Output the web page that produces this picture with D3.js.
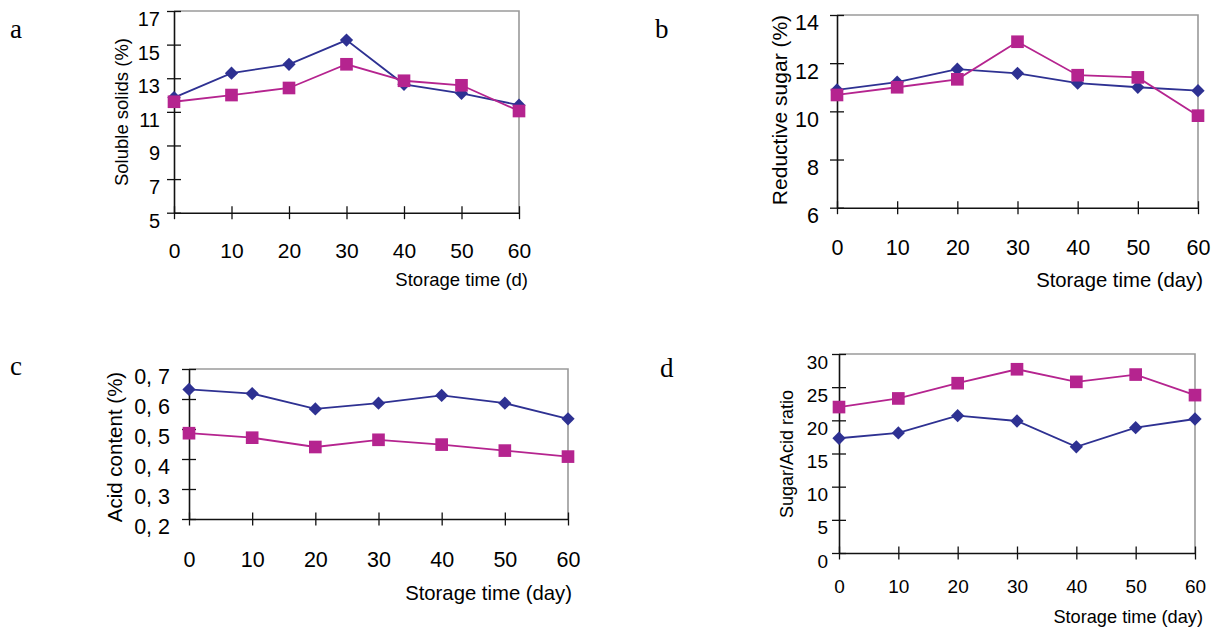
<!DOCTYPE html>
<html>
<head>
<meta charset="utf-8">
<script src="https://cdn.jsdelivr.net/npm/d3@7"></script>
<style>
  body { margin: 0; background: #fff; }
  svg { display: block; }
</style>
</head>
<body>
<div class="holder"></div>
<script>
const days = [0, 10, 20, 30, 40, 50, 60];

const solidsBlue = [11.85, 13.3, 13.83, 15.27, 12.64, 12.1, 11.4];
const solidsPink = [11.6, 12.0, 12.42, 13.83, 12.85, 12.58, 11.05];
const sugarBlue = [10.89, 11.21, 11.75, 11.58, 11.17, 11.0, 10.86];
const sugarPink = [10.68, 11.0, 11.33, 12.89, 11.5, 11.41, 9.82];
const acidBlue = [0.632, 0.618, 0.567, 0.586, 0.612, 0.586, 0.534];
const acidPink = [0.486, 0.471, 0.44, 0.464, 0.448, 0.428, 0.408];
const ratioBlue = [17.3, 18.1, 20.7, 19.9, 16.0, 18.9, 20.2];
const ratioPink = [22.0, 23.3, 25.6, 27.7, 25.8, 26.9, 23.8];

const solidsTicks = [5, 7, 9, 11, 13, 15, 17];
const sugarTicks = [6, 8, 10, 12, 14];
const acidTicks = [0.2, 0.3, 0.4, 0.5, 0.6, 0.7];
const acidTickLabels = ['0, 2', '0, 3', '0, 4', '0, 5', '0, 6', '0, 7'];
const ratioTicks = [0, 5, 10, 15, 20, 25, 30];

const blue = '#2e3192';
const pink = '#b5248f';
const sans = '"Liberation Sans", Arial, sans-serif';

const panels = [
  {
    letter: 'a', lx: 10, ly: 38,
    left: 174, right: 519, top: 11, bottom: 212.7,
    domain: [5, 17], ticks: solidsTicks, fmt: d => d,
    blue: solidsBlue, pink: solidsPink,
    yFont: 20, yPad: 7, xFont: 21, xPad: 23.5,
    yTitle: 'Soluble solids (%)', ytx: 128, yty: 112, ytFont: 18.5,
    xTitle: 'Storage time (d)', xtx: 528, xty: 286, xtFont: 18.5
  },
  {
    letter: 'b', lx: 655, ly: 38,
    left: 837, right: 1198, top: 15, bottom: 207.7,
    domain: [6, 14], ticks: sugarTicks, fmt: d => d,
    blue: sugarBlue, pink: sugarPink,
    yFont: 21.5, yPad: 11, xFont: 21.5, xPad: 26,
    yTitle: 'Reductive sugar (%)', ytx: 787, yty: 110, ytFont: 21,
    xTitle: 'Storage time (day)', xtx: 1203, xty: 287, xtFont: 20.3
  },
  {
    letter: 'c', lx: 10, ly: 375,
    left: 189, right: 568, top: 369, bottom: 519,
    domain: [0.2, 0.7], ticks: acidTicks, fmt: (d, i) => acidTickLabels[i],
    blue: acidBlue, pink: acidPink,
    yFont: 21.5, yPad: 12, xFont: 21.5, xPad: 26,
    yTitle: 'Acid content (%)', ytx: 122, yty: 447, ytFont: 20.5,
    xTitle: 'Storage time (day)', xtx: 572, xty: 600, xtFont: 20.3
  },
  {
    letter: 'd', lx: 660, ly: 377,
    left: 839, right: 1195, top: 354, bottom: 553,
    domain: [0, 30], ticks: ratioTicks, fmt: d => d,
    blue: ratioBlue, pink: ratioPink,
    yFont: 19, yPad: 4, xFont: 19, xPad: 20.5,
    yTitle: 'Sugar/Acid ratio', ytx: 793, yty: 454, ytFont: 18,
    xTitle: 'Storage time (day)', xtx: 1203, xty: 623, xtFont: 18.2
  }
];

const svg = d3
  .select('.holder')
  .append('svg')
  .attr('width', 1216)
  .attr('height', 628);

const diamond = d3.symbol(d3.symbolSquare, 88);
const square = d3.symbol(d3.symbolSquare, 160);

panels.forEach(p => {
  const g = svg.append('g');

  const xScale = d3.scaleLinear().domain([0, 60]).range([p.left, p.right]);
  const yScale = d3.scaleLinear().domain(p.domain).range([p.bottom, p.top]);

  // grey frame on top and right
  g.append('path')
    .attr('d', `M${p.left},${p.top}H${p.right}V${p.bottom}`)
    .attr('fill', 'none')
    .attr('stroke', '#9a9a9a')
    .attr('stroke-width', 1.6);

  const yAxis = d3.axisLeft(yScale)
    .tickValues(p.ticks)
    .tickFormat(p.fmt)
    .tickSize(7)
    .tickSizeOuter(0)
    .tickPadding(p.yPad);

  const yg = g.append('g')
    .attr('transform', `translate(${p.left},0)`)
    .call(yAxis);
  yg.selectAll('.tick line').attr('x1', 7);
  yg.selectAll('.tick text').attr('y', 8);

  const xAxis = d3.axisBottom(xScale)
    .tickValues(days)
    .tickSize(6.5)
    .tickSizeOuter(0)
    .tickPadding(p.xPad);

  const xg = g.append('g')
    .attr('transform', `translate(0,${p.bottom})`)
    .call(xAxis);
  xg.selectAll('.tick line').attr('y1', -6.5);

  [yg, xg].forEach(a => {
    a.attr('font-family', sans).attr('fill', '#000');
    a.select('.domain').attr('stroke', '#111').attr('stroke-width', 1.6);
    a.selectAll('.tick line').attr('stroke', '#111').attr('stroke-width', 1.3);
    a.selectAll('.tick text').attr('fill', '#000');
  });
  yg.attr('font-size', p.yFont);
  xg.attr('font-size', p.xFont);

  const line = d3.line()
    .x((d, i) => xScale(days[i]))
    .y(d => yScale(d));

  g.append('path')
    .datum(p.blue)
    .attr('d', line)
    .attr('fill', 'none')
    .attr('stroke', blue)
    .attr('stroke-width', 1.8);

  g.selectAll('.dia')
    .data(p.blue)
    .enter()
    .append('path')
    .attr('class', 'dia')
    .attr('d', diamond)
    .attr('transform', (d, i) => `translate(${xScale(days[i])},${yScale(d)}) rotate(45)`)
    .attr('fill', blue);

  g.append('path')
    .datum(p.pink)
    .attr('d', line)
    .attr('fill', 'none')
    .attr('stroke', pink)
    .attr('stroke-width', 1.8);

  g.selectAll('.sq')
    .data(p.pink)
    .enter()
    .append('path')
    .attr('class', 'sq')
    .attr('d', square)
    .attr('transform', (d, i) => `translate(${xScale(days[i])},${yScale(d)})`)
    .attr('fill', pink);

  g.append('text')
    .attr('transform', `translate(${p.ytx},${p.yty}) rotate(-90)`)
    .attr('text-anchor', 'middle')
    .attr('font-family', sans)
    .attr('font-size', p.ytFont)
    .text(p.yTitle);

  g.append('text')
    .attr('x', p.xtx)
    .attr('y', p.xty)
    .attr('text-anchor', 'end')
    .attr('font-family', sans)
    .attr('font-size', p.xtFont)
    .text(p.xTitle);

  svg.append('text')
    .attr('x', p.lx)
    .attr('y', p.ly)
    .attr('font-family', '"Liberation Serif", "Times New Roman", serif')
    .attr('font-size', 27)
    .text(p.letter);
});
</script>
</body>
</html>
